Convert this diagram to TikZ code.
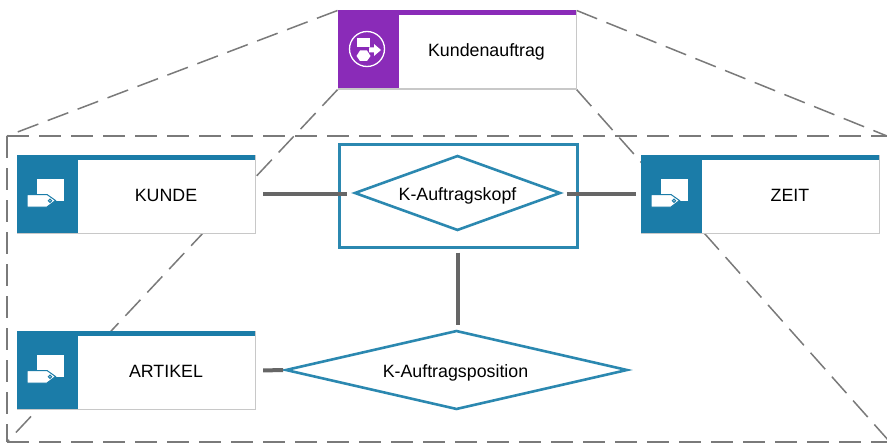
\documentclass[tikz,border=0pt]{standalone}
\usepackage{fontspec}
\setmainfont{Liberation Sans}
\usetikzlibrary{shapes.geometric}
\definecolor{bandblue}{HTML}{1B7CA8}
\definecolor{relblue}{HTML}{2B88B0}
\definecolor{bandpurple}{HTML}{8A2BB8}
\definecolor{edgegray}{HTML}{C8C8C8}
\definecolor{connect}{HTML}{666666}
\definecolor{dashgray}{HTML}{7A7A7A}
\tikzset{
  cardbox/.style={draw=edgegray,line width=1.2pt,fill=white,minimum width=238pt,minimum height=78pt,inner sep=0pt,anchor=north west},
  cardlabel/.style={font=\fontsize{17.8}{20}\selectfont,text=black,inner sep=0pt,anchor=base},
  viewline/.style={draw=dashgray,line width=1.5pt,dash pattern=on 22pt off 10pt},
  relbox/.style={draw=relblue,line width=3pt,fill=white,minimum width=238pt,minimum height=103pt,inner sep=0pt,anchor=north west},
  relkite/.style={diamond,draw=relblue,line width=2.6pt,fill=white,inner sep=0pt},
  kitelabel/.style={font=\fontsize{17.8}{20}\selectfont,text=black,inner sep=0pt,anchor=base},
  link/.style={draw=connect,line width=4pt}
}
% #1 name, #2 x, #3 y, #4 colour, #5 text
\newcommand{\cardshape}[5]{
  \node[cardbox] (#1) at (#2,#3) {};
  \fill[#4] (#2,#3) rectangle ++(238,5);
  \fill[#4] (#2,#3) rectangle ++(61,78);
  \node[cardlabel] (#1-label) at (#2+149,#3+46.3) {#5};
}
\newcommand{\tagicon}[2]{
  \begin{scope}[shift={(#1,#2)}]
    \fill[white] (20,24) rectangle (47,46);
    \fill[white,draw=bandblue,line width=1pt] (10,39.5) -- (30,39.5) -- (38.5,45.5) -- (30,52) -- (10,52) -- cycle;
    \draw[bandblue,line width=1pt] (33,45.7) circle (1.6);
  \end{scope}
}
\begin{document}
\begin{tikzpicture}[x=1pt,y=-1pt]
\useasboundingbox (0,0) rectangle (887,444);
\fill[white] (0,0) rectangle (887,444);
\coordinate (frameTL) at (7,136);
\coordinate (frameTR) at (887,136);
\coordinate (frameBL) at (7,442);
\coordinate (frameBR) at (887,442);
\coordinate (viewBR) at (897,450);
% top card placed first for its anchors
\node[cardbox,draw=none,fill=none] (auftragref) at (337.5,10.5) {};
\draw[viewline] (auftragref.north west) -- (frameTL);
\draw[viewline] (auftragref.south west) -- (frameBL);
\draw[viewline] (auftragref.north east) -- (frameTR);
\draw[viewline] (auftragref.south east) -- (viewBR);
\draw[viewline] (frameTL) -- (frameTR);
\draw[viewline] (frameTL) -- (frameBL);
\draw[viewline] (frameBL) -- (frameBR);

\cardshape{auftrag}{337.5}{10.5}{bandpurple}{Kundenauftrag}
\cardshape{kunde}{17}{155}{bandblue}{KUNDE}
\cardshape{zeit}{641}{155}{bandblue}{ZEIT}
\cardshape{artikel}{17}{331}{bandblue}{ARTIKEL}
\tagicon{17}{155}
\tagicon{641}{155}
\tagicon{17}{331}
% purple icon
\draw[white,line width=1.3pt] (367,49) circle (17.5);
\fill[white] (357,38) rectangle (370,47);
\fill[white] (360,50.5) -- (367,50.5) -- (370.5,56) -- (367,61) -- (360,61) -- (356.5,56) -- cycle;
\fill[white] (369,47.5) -- (374,47.5) -- (374,44) -- (381,50) -- (374,56) -- (374,52.5) -- (369,52.5) -- cycle;

\node[relbox] (kopfbox) at (338,142.5) {};
\node[relkite,minimum width=206pt,minimum height=75pt,aspect=2.75] (kopf) at (457.5,193) {};
\node[kitelabel] (kopf-label) at (457.5,200.5) {K-Auftragskopf};
\node[relkite,minimum width=342pt,minimum height=79pt,aspect=4.33] (pos) at (456.5,370) {};
\node[kitelabel] (pos-label) at (455.5,377) {K-Auftragsposition};

\draw[link,shorten <=7pt,shorten >=6pt] ([yshift=-1pt]kunde.east |- kopf) -- ([yshift=-1pt]kopf.west);
\draw[link,shorten <=5pt,shorten >=5pt] ([yshift=-1pt]kopf.east) -- ([yshift=-1pt]zeit.west |- kopf);
\draw[link,shorten <=4pt,shorten >=4pt] (kopfbox.south -| kopf) -- (pos.north -| kopf);
\draw[link,shorten <=7pt,shorten >=1pt] (artikel.east) -- (pos.west);
\end{tikzpicture}
\end{document}
